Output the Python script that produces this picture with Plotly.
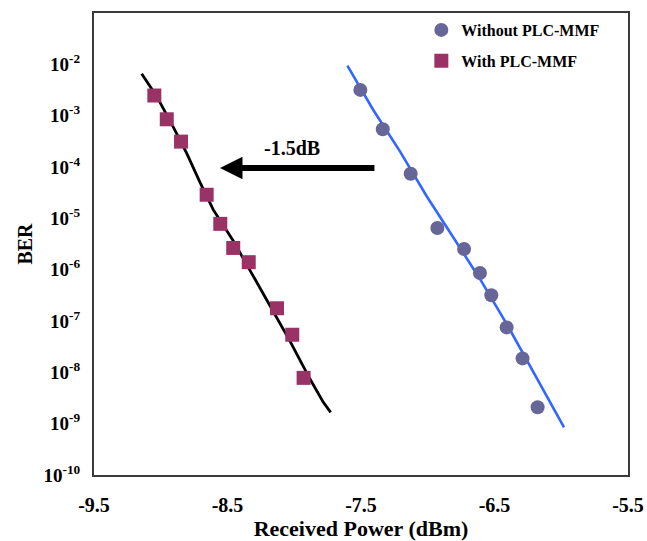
import plotly.graph_objects as go

# Measured data
with_x = [-9.048, -8.955, -8.848, -8.656, -8.554, -8.457, -8.341, -8.129, -8.015, -7.93]
with_ber = [2.47e-3, 8.5e-4, 3.12e-4, 2.88e-5, 7.8e-6, 2.65e-6, 1.40e-6, 1.77e-7, 5.4e-8, 7.8e-9]

without_x = [-7.505, -7.337, -7.128, -6.928, -6.728, -6.609, -6.524, -6.409, -6.29, -6.177]
without_ber = [3.18e-3, 5.45e-4, 7.4e-5, 6.5e-6, 2.53e-6, 8.6e-7, 3.18e-7, 7.5e-8, 1.87e-8, 2.09e-9]

# Fit curves
with_fit_x = [-9.143, -9.031, -8.906, -8.806, -8.706, -8.606, -8.456, -8.307, -8.207, -8.032, -7.882, -7.782, -7.727]
with_fit_ber = [6.56e-3, 2.40e-3, 5.97e-4, 1.87e-4, 5.0e-5, 1.46e-5, 3.61e-6, 7.7e-7, 2.60e-7, 4.06e-8, 7.4e-9, 2.6e-9, 1.66e-9]

without_fit_x = [-7.602, -7.408, -7.208, -7.008, -6.808, -6.609, -6.409, -6.209, -5.979]
without_fit_ber = [9.4e-3, 1.29e-3, 2.02e-4, 2.70e-5, 4.22e-6, 6.6e-7, 8.8e-8, 1.01e-8, 8.5e-10]

x_ticks = [-9.5, -8.5, -7.5, -6.5, -5.5]
y_exps = [-2, -3, -4, -5, -6, -7, -8, -9, -10]

FONT = "Liberation Serif"

fig = go.Figure()
fig.add_trace(go.Scatter(x=with_fit_x, y=with_fit_ber, mode="lines",
                         line=dict(color="black", width=2.8), showlegend=False))
fig.add_trace(go.Scatter(x=without_fit_x, y=without_fit_ber, mode="lines",
                         line=dict(color="#3366FF", width=2.6), showlegend=False))
fig.add_trace(go.Scatter(x=without_x, y=without_ber, mode="markers", name="<b>Without PLC-MMF</b>",
                         legendgroup="a",
                         marker=dict(symbol="circle", size=14, color="#666699")))
fig.add_trace(go.Scatter(x=with_x, y=with_ber, mode="markers", name="<b>With PLC-MMF</b>",
                         legendgroup="b",
                         marker=dict(symbol="square", size=14, color="#993366")))

fig.add_annotation(x=-8.556, y=-4.02, ax=-7.388, ay=-4.02, xref="x", yref="y",
                   axref="x", ayref="y", showarrow=True, arrowhead=2, arrowsize=0.75,
                   arrowwidth=6, arrowcolor="black", text="")
fig.add_annotation(x=-8.017, y=-3.63, xref="x", yref="y", showarrow=False,
                   text="<b>-1.5dB</b>", font=dict(family=FONT, size=20, color="black"))

fig.update_layout(
    width=647, height=541,
    margin=dict(l=94, r=19, t=13, b=66),
    paper_bgcolor="white", plot_bgcolor="white",
    font=dict(family=FONT, color="black"),
    legend=dict(x=0.613, y=1.0, xanchor="left", yanchor="top",
                font=dict(family=FONT, size=16, color="black"),
                bgcolor="rgba(0,0,0,0)", tracegroupgap=7),
    xaxis=dict(range=[-9.5, -5.5], tickvals=x_ticks,
               ticktext=["<b>%g</b>" % v for v in x_ticks],
               tickfont=dict(family=FONT, size=20), showgrid=False, zeroline=False,
               showline=True, mirror=True, linecolor="#3a3a3a", linewidth=2,
               ticks="", ticklabelstandoff=11, automargin=False,
               title=dict(text="<b>Received Power (dBm)</b>", font=dict(family=FONT, size=22),
                          standoff=10)),
    yaxis=dict(type="log", range=[-10, -1],
               tickvals=[10.0 ** e for e in y_exps],
               ticktext=["<b>10<sup>%d</sup></b>" % e for e in y_exps],
               tickfont=dict(family=FONT, size=19), showgrid=False, zeroline=False,
               showline=True, mirror=True, linecolor="#3a3a3a", linewidth=2,
               ticks="", ticklabelstandoff=8, automargin=False,
               title=dict(text="<b>BER</b>", font=dict(family=FONT, size=20), standoff=5)),
)

fig.write_html("out.html", config={"displayModeBar": False},
               post_script="document.body.style.margin='0';")
